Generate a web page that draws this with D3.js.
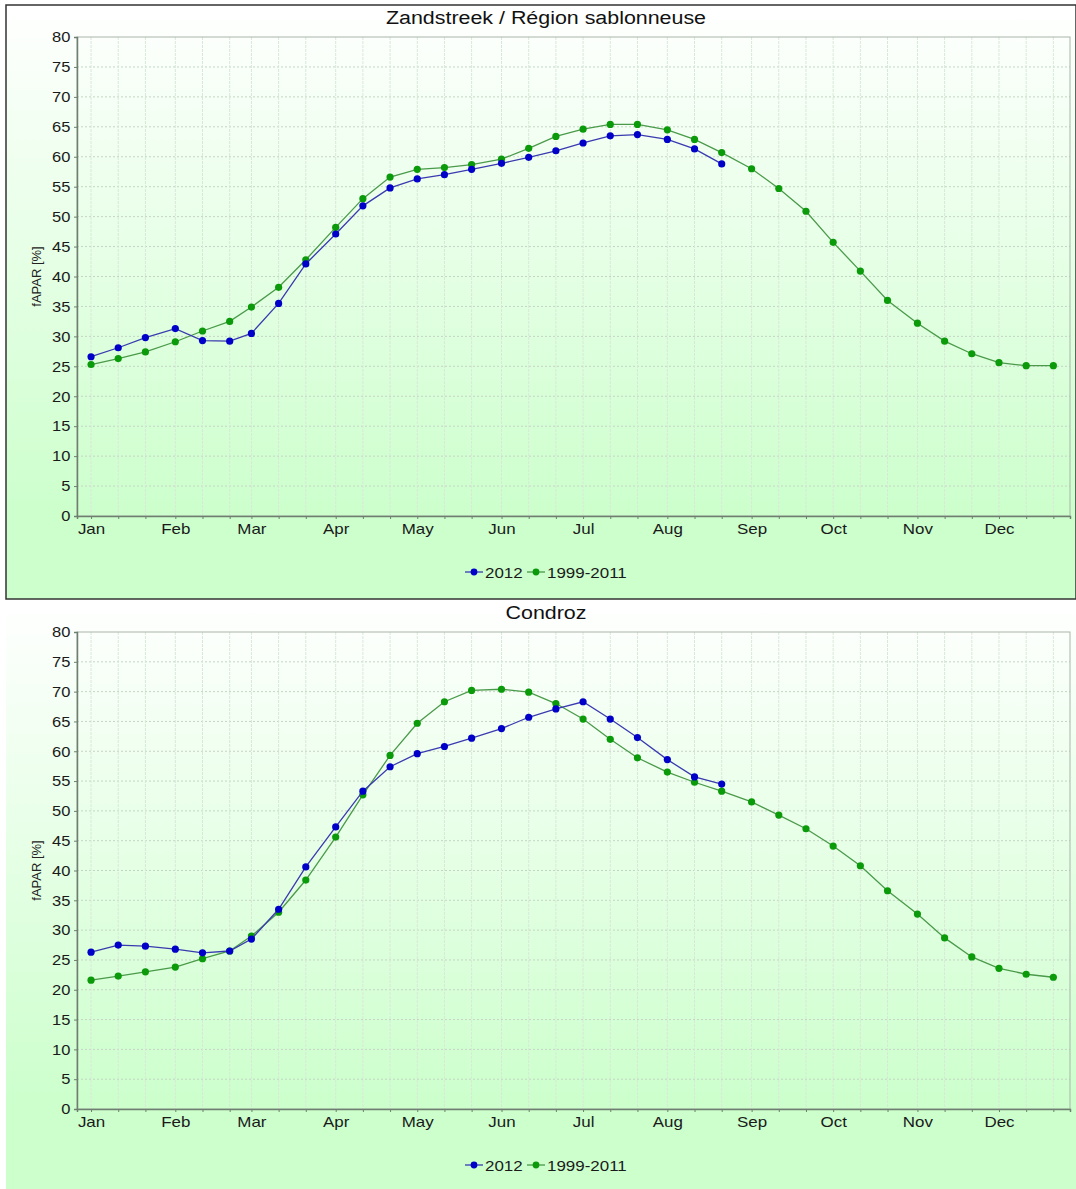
<!DOCTYPE html>
<html>
<head>
<meta charset="utf-8">
<script src="https://cdn.jsdelivr.net/npm/d3@7"></script>
<style>
  body { margin: 0; background: #fff; }
  svg { display: block; font-family: "Liberation Sans", Arial, sans-serif; }
</style>
</head>
<body>
<svg id="chart" width="1076" height="1189"></svg>
<script>
'use strict';

// dekad dates (month-day), one year
var dekads = [
  '01-01','01-11','01-21','02-01','02-11','02-21','03-01','03-11','03-21',
  '04-01','04-11','04-21','05-01','05-11','05-21','06-01','06-11','06-21',
  '07-01','07-11','07-21','08-01','08-11','08-21','09-01','09-11','09-21',
  '10-01','10-11','10-21','11-01','11-11','11-21','12-01','12-11','12-21'
];
var monthLabels = ['Jan','Feb','Mar','Apr','May','Jun','Jul','Aug','Sep','Oct','Nov','Dec'];
var yTicks = [0,5,10,15,20,25,30,35,40,45,50,55,60,65,70,75,80];
var seriesNames = ['2012', '1999-2011'];

// Zandstreek / Région sablonneuse
var sand2012 = [26.6,28.1,29.8,31.3,29.3,29.2,30.5,35.5,42.1,47.1,51.8,54.8,
                56.3,57.0,57.9,58.9,59.9,61.0,62.3,63.5,63.7,62.9,61.3,58.8];
var sandAvg  = [25.3,26.3,27.4,29.1,30.9,32.5,34.9,38.2,42.8,48.2,53.0,56.6,
                57.9,58.2,58.7,59.6,61.4,63.4,64.6,65.4,65.4,64.5,62.9,60.7,
                58.0,54.7,50.9,45.7,40.9,36.0,32.2,29.2,27.1,25.6,25.1,25.1];

// Condroz
var cond2012 = [26.3,27.5,27.3,26.8,26.2,26.5,28.5,33.5,40.6,47.3,53.3,57.4,
                59.6,60.8,62.2,63.8,65.7,67.1,68.3,65.4,62.3,58.6,55.7,54.5];
var condAvg  = [21.6,22.3,23.0,23.8,25.2,26.5,29.0,33.0,38.4,45.6,52.7,59.3,
                64.7,68.3,70.2,70.4,69.9,68.0,65.4,62.0,58.9,56.5,54.8,53.3,
                51.5,49.3,47.0,44.1,40.8,36.6,32.7,28.7,25.5,23.6,22.6,22.1];

var colors = { blue: '#0000c8', blueLine: '#3a3ab0', green: '#0a9a0a', greenLine: '#4a9a4a' };
var FONT = '"Liberation Sans", Arial, sans-serif';

var svg = d3.select('#chart');
var defs = svg.append('defs');

var grad = defs.append('linearGradient')
    .attr('id', 'bg').attr('x1', 0).attr('y1', 0).attr('x2', 0).attr('y2', 1);
grad.append('stop').attr('offset', '0%').attr('stop-color', '#ffffff');
grad.append('stop').attr('offset', '86%').attr('stop-color', '#ccffcc');
grad.append('stop').attr('offset', '100%').attr('stop-color', '#ccffcc');

function toDate(md) {
  var p = md.split('-');
  return new Date(2011, +p[0] - 1, +p[1]);
}

var x = d3.scaleTime()
    .domain([new Date(2010, 11, 26, 20), new Date(2011, 11, 27, 3)])
    .range([77, 1070]);

function drawChart(opt) {
  var g = svg.append('g').attr('transform', 'translate(0,' + opt.top + ')');
  var plotTop = 32, plotBottom = opt.plotH + 32;

  var y = d3.scaleLinear().domain([0, 80]).range([plotBottom, plotTop]);

  // panel background
  g.append('rect')
      .attr('x', 6).attr('y', 0)
      .attr('width', 1070).attr('height', opt.panelH)
      .attr('fill', 'url(#bg)')
      .attr('stroke', opt.border ? '#333' : 'none')
      .attr('stroke-width', 1.5);

  // title (the original renders wide, so stretch it a little)
  g.append('text')
      .attr('transform', 'translate(546,19) scale(1.19,1)')
      .attr('text-anchor', 'middle')
      .attr('font-size', 18)
      .attr('fill', '#111')
      .text(opt.title);

  // grid
  g.append('g').selectAll('line')
      .data(yTicks.slice(1, -1))
    .enter().append('line')
      .attr('x1', 77).attr('x2', 1070)
      .attr('y1', function(d) { return y(d); })
      .attr('y2', function(d) { return y(d); })
      .attr('stroke', '#c4d4c4').attr('stroke-dasharray', '2,2');

  g.append('g').selectAll('line')
      .data(dekads)
    .enter().append('line')
      .attr('x1', function(d) { return x(toDate(d)); })
      .attr('x2', function(d) { return x(toDate(d)); })
      .attr('y1', plotTop).attr('y2', plotBottom)
      .attr('stroke', '#d8e8d8').attr('stroke-dasharray', '3,1');

  // plot outline
  g.append('rect')
      .attr('x', 77).attr('y', plotTop)
      .attr('width', 993).attr('height', plotBottom - plotTop)
      .attr('fill', 'none').attr('stroke', '#a9b5a9');

  // y axis
  var yAxis = d3.axisLeft(y).tickValues(yTicks).tickSize(3).tickPadding(3);
  var ya = g.append('g').attr('transform', 'translate(77,0)').call(yAxis);
  ya.select('.domain').attr('stroke', '#6f7f6f').attr('stroke-width', 1.5);
  ya.selectAll('.tick line').attr('stroke', '#6f7f6f');
  ya.selectAll('text').attr('font-size', 15).attr('fill', '#1a1a1a')
      .attr('font-family', FONT)
      .attr('transform', 'scale(1.1,1)');

  // x axis: ticks on every dekad, label on month starts
  var xAxis = d3.axisBottom(x)
      .tickValues(dekads.map(toDate))
      .tickSize(3).tickPadding(4)
      .tickFormat(function(d) { return d.getDate() === 1 ? monthLabels[d.getMonth()] : ''; });
  var xa = g.append('g').attr('transform', 'translate(0,' + plotBottom + ')').call(xAxis);
  xa.select('.domain').attr('stroke', '#6f7f6f').attr('stroke-width', 1.5);
  xa.selectAll('.tick line').attr('stroke', '#6f7f6f');
  xa.selectAll('text').attr('font-size', 15).attr('fill', '#1a1a1a')
      .attr('font-family', FONT)
      .attr('transform', 'scale(1.13,1)');

  // y label
  g.append('text')
      .attr('transform', 'translate(41,' + ((plotTop + plotBottom) / 2) + ') rotate(-90)')
      .attr('text-anchor', 'middle')
      .attr('font-size', 13)
      .attr('fill', '#222')
      .text('fAPAR [%]');

  var line = d3.line()
      .x(function(d, i) { return x(toDate(dekads[i])); })
      .y(function(d) { return y(d); });

  var series = [
    { values: opt.avg, dot: colors.green, stroke: colors.greenLine },
    { values: opt.cur, dot: colors.blue, stroke: colors.blueLine }
  ];

  series.forEach(function(s) {
    g.append('path')
        .datum(s.values)
        .attr('fill', 'none')
        .attr('stroke', s.stroke)
        .attr('stroke-width', 1.3)
        .attr('d', line);

    g.append('g').selectAll('circle')
        .data(s.values)
      .enter().append('circle')
        .attr('cx', function(d, i) { return x(toDate(dekads[i])); })
        .attr('cy', function(d) { return y(d); })
        .attr('r', 3.6)
        .attr('fill', s.dot);
  });

  // legend
  var ly = plotBottom + 56;
  var items = [
    { name: seriesNames[0], x: 465, dot: colors.blue, stroke: colors.blueLine },
    { name: seriesNames[1], x: 527, dot: colors.green, stroke: colors.greenLine }
  ];
  var leg = g.append('g');
  items.forEach(function(it) {
    leg.append('line')
        .attr('x1', it.x).attr('x2', it.x + 18)
        .attr('y1', ly).attr('y2', ly)
        .attr('stroke', it.stroke).attr('stroke-width', 1.3);
    leg.append('circle')
        .attr('cx', it.x + 9).attr('cy', ly).attr('r', 3.4)
        .attr('fill', it.dot);
    leg.append('text')
        .attr('transform', 'translate(' + (it.x + 20) + ',' + (ly + 5.5) + ') scale(1.13,1)')
        .attr('font-size', 15)
        .attr('fill', '#1a1a1a')
        .text(it.name);
  });
}

drawChart({ top: 5, panelH: 594, plotH: 479, border: true,
            title: 'Zandstreek / Région sablonneuse', cur: sand2012, avg: sandAvg });
drawChart({ top: 600, panelH: 589, plotH: 477, border: false,
            title: 'Condroz', cur: cond2012, avg: condAvg });
</script>
</body>
</html>
